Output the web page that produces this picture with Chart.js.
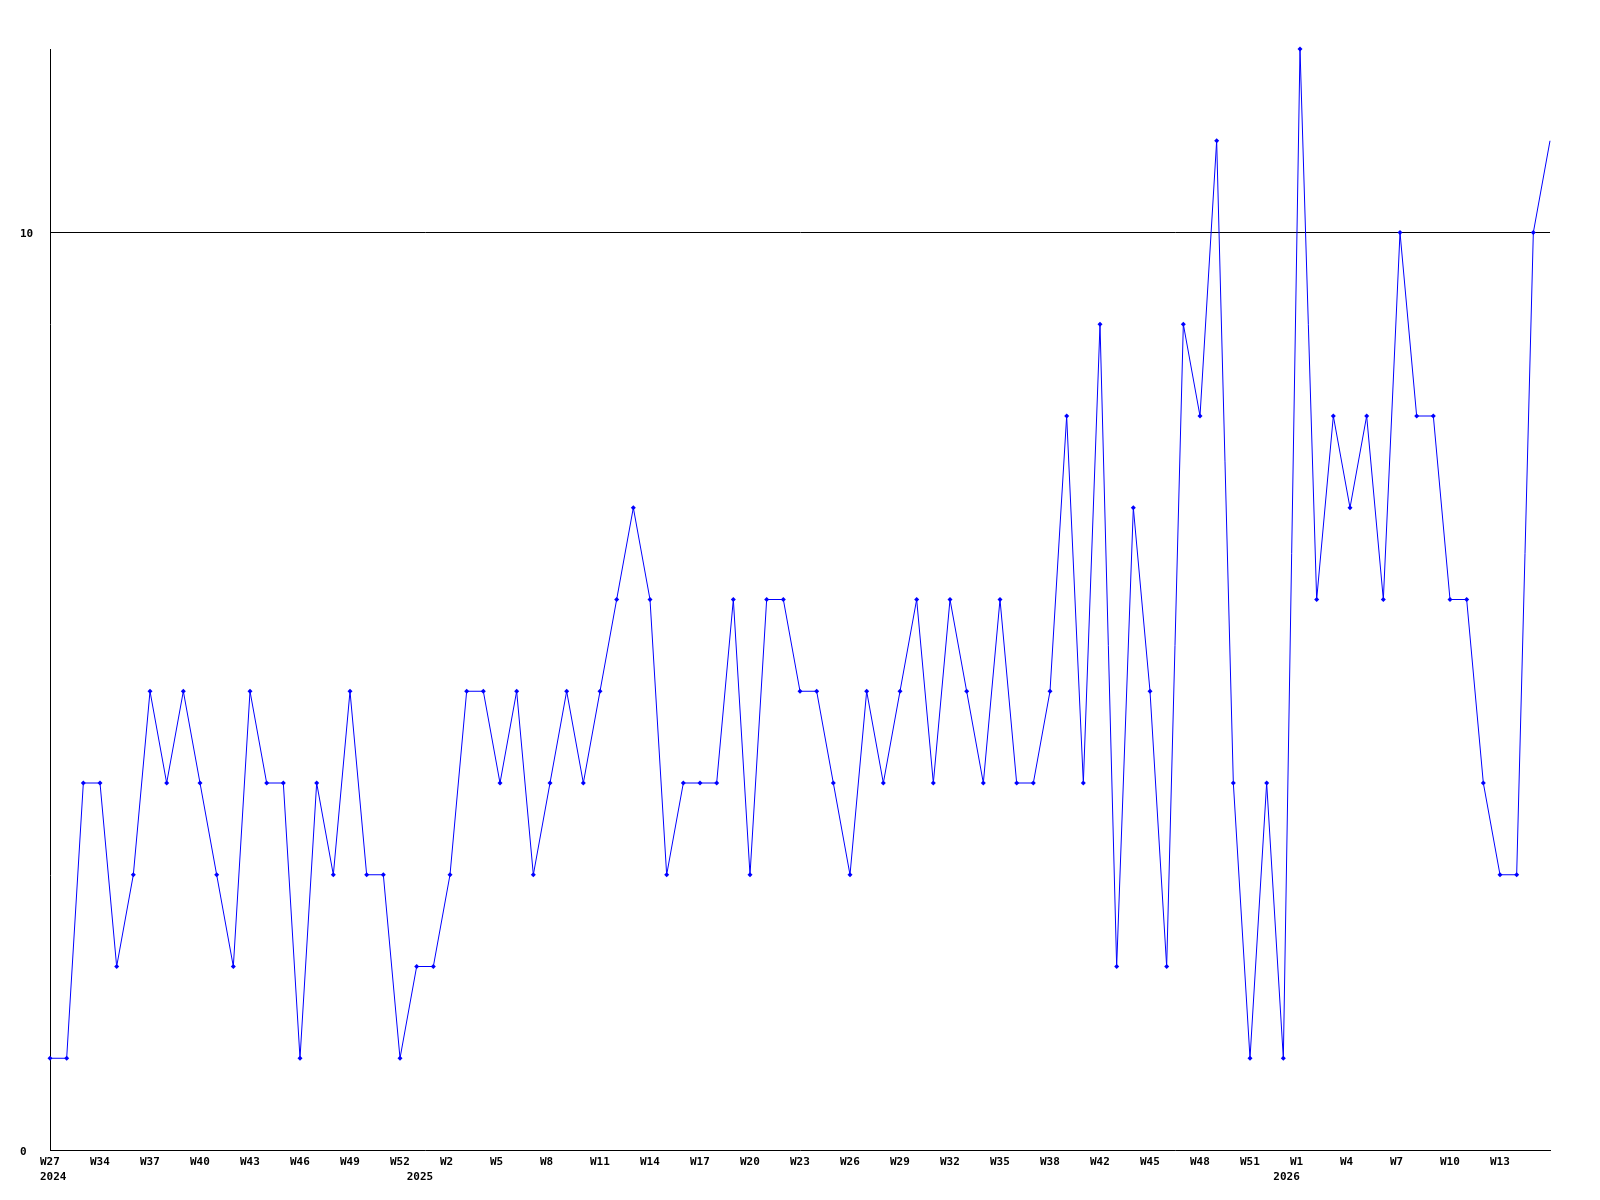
<!DOCTYPE html>
<html>
<head>
<meta charset="utf-8">
<script src="https://cdn.jsdelivr.net/npm/chart.js@4/dist/chart.umd.min.js"></script>
<style>
    body { margin: 0; background: #fff; }
    canvas { display: block; }
</style>
</head>
<body>
<canvas id="myChart" width="1600" height="1200"></canvas>
<script>
// weekly values, one per point
var values = [1, 1, 4, 4, 2, 3, 5, 4, 5, 4, 3, 2, 5, 4, 4, 1, 4, 3, 5, 3,
    3, 1, 2, 2, 3, 5, 5, 4, 5, 3, 4, 5, 4, 5, 6, 7, 6, 3, 4, 4,
    4, 6, 3, 6, 6, 5, 5, 4, 3, 5, 4, 5, 6, 4, 6, 5, 4, 6, 4, 4,
    5, 8, 4, 9, 2, 7, 5, 2, 9, 8, 11, 4, 1, 4, 1, 12, 6, 8, 7, 8,
    6, 10, 8, 8, 6, 6, 4, 3, 3, 10, 11];

// week labels shown every third point
var weekLabels = ['W27', 'W34', 'W37', 'W40', 'W43', 'W46', 'W49', 'W52', 'W2', 'W5',
    'W8', 'W11', 'W14', 'W17', 'W20', 'W23', 'W26', 'W29', 'W32', 'W35',
    'W38', 'W42', 'W45', 'W48', 'W51', 'W1', 'W4', 'W7', 'W10', 'W13'];

// year labels and the point index they sit under
var yearLabels = ['2024', '2025', '2026'];
var yearIndex = [0, 22, 74];

var yTicks = [0, 10];

document.addEventListener("DOMContentLoaded", () => {
    var labels = values.map((v, i) => {
        var top = (i % 3 === 0 && weekLabels[i / 3]) ? weekLabels[i / 3] : '';
        var y = yearIndex.indexOf(i);
        var bottom = y >= 0 ? yearLabels[y] : '';
        return [top, bottom];
    });

    var font = { family: '"DejaVu Sans Mono", monospace', size: 11, weight: 'bold', lineHeight: 1.36 };

    var ctx = document.getElementById('myChart').getContext('2d');
    var chart = new Chart(ctx, {
        type: 'line',
        data: {
            labels: labels,
            datasets: [{
                data: values,
                borderColor: '#0000ff',
                backgroundColor: '#0000ff',
                borderWidth: 1,
                fill: false,
                tension: 0,
                clip: false,
                pointStyle: 'rectRot',
                pointRadius: ctx => ctx.dataIndex === values.length - 1 ? 0 : 2.5,
                pointBorderWidth: 0
            }]
        },
        options: {
            responsive: false,
            animation: false,
            layout: {
                padding: { left: 20, top: 49, right: 50, bottom: 0 }
            },
            plugins: {
                legend: { display: false },
                tooltip: { enabled: false }
            },
            scales: {
                x: {
                    offset: false,
                    grid: { display: false, drawTicks: false },
                    border: { display: true, color: '#000', width: 1 },
                    ticks: {
                        autoSkip: false,
                        maxRotation: 0,
                        minRotation: 0,
                        align: 'start',
                        labelOffset: -10,
                        padding: 5,
                        color: '#000',
                        font: font,
                        callback: function (val, idx) {
                            return labels[idx];
                        }
                    },
                    afterFit: function (axis) { axis.height = 50; }
                },
                y: {
                    min: 0,
                    max: 12,
                    afterBuildTicks: function (axis) {
                        axis.ticks = yTicks.map(v => ({ value: v }));
                    },
                    grid: {
                        drawTicks: false,
                        color: c => c.tick && c.tick.value === 10 ? '#000' : 'rgba(0,0,0,0)',
                        lineWidth: 1
                    },
                    border: { display: true, color: '#000', width: 1 },
                    ticks: {
                        crossAlign: 'far',
                        padding: 0,
                        labelOffset: 2,
                        color: '#000',
                        font: font
                    },
                    afterFit: function (axis) { axis.width = 30; }
                }
            }
        }
    });
});
</script>
</body>
</html>
